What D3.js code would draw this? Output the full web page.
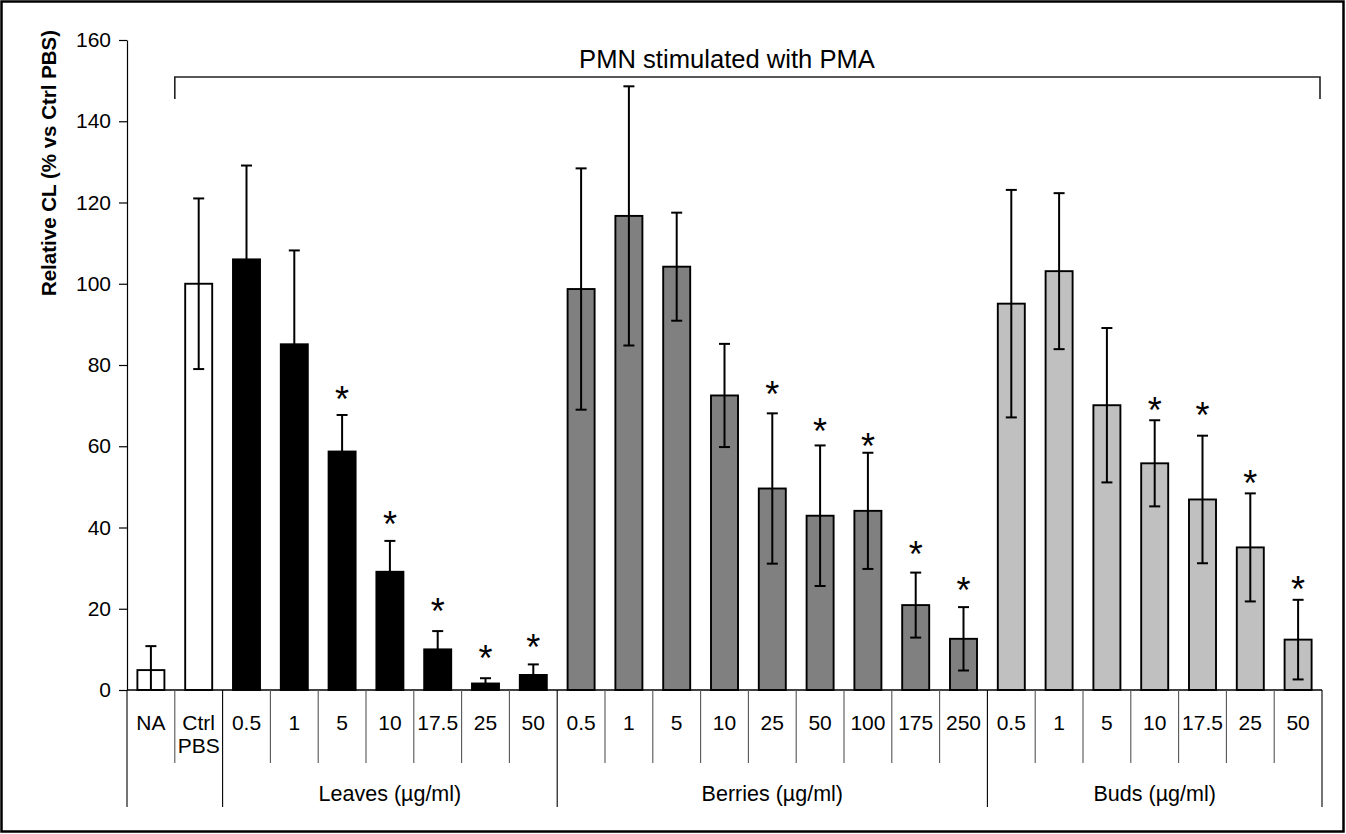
<!DOCTYPE html>
<html>
<head>
<meta charset="utf-8">
<script src="https://cdn.jsdelivr.net/npm/d3@7"></script>
<style>
body{margin:0;background:#fff;}
text{font-family:"Liberation Sans",Arial,sans-serif;fill:#000;}
</style>
</head>
<body>
<svg id="chart" width="1346" height="834"></svg>
<script>
// categories along the x axis (two-line labels split by \n)
var catLabels = ["NA","Ctrl\nPBS","0.5","1","5","10","17.5","25","50",
	"0.5","1","5","10","25","50","100","175","250",
	"0.5","1","5","10","17.5","25","50"];
var catGroup = ["none","ctrl","leaves","leaves","leaves","leaves","leaves","leaves","leaves",
	"berries","berries","berries","berries","berries","berries","berries","berries","berries",
	"buds","buds","buds","buds","buds","buds","buds"];
// mean relative CL (% vs Ctrl PBS)
var means = [4.9,100,106,85.1,58.7,29.1,10,1.6,3.7,
	98.7,116.7,104.2,72.5,49.6,42.9,44.1,20.9,12.6,
	95.1,103.1,70.1,55.8,46.9,35.1,12.4];
// error (+/-)
var errors = [5.9,21,23.1,23.1,9,7.6,4.5,1.3,2.6,
	29.7,31.9,13.3,12.7,18.5,17.3,14.3,8,7.8,
	28,19.2,19,10.6,15.7,13.3,9.8];
// level of the significance star, null = no star
var stars = [null,null,null,null,73.4,42.7,21.2,9.6,12.3,
	null,null,null,null,74.5,65.4,61.7,35.3,26.4,
	null,null,null,70.6,69.3,52.7,26.6];
var groupLabels = ["Leaves (µg/ml)","Berries (µg/ml)","Buds (µg/ml)"];
var groupKeys = ["leaves","berries","buds"];
var yTicks = [0,20,40,60,80,100,120,140,160];
var fills = {none:"#ffffff", ctrl:"#ffffff", leaves:"#000000", berries:"#808080", buds:"#c0c0c0"};

var svg = d3.select("#chart");
var W = 1346, H = 834;

svg.append("rect").attr("x",1.5).attr("y",1.5).attr("width",W-4).attr("height",H-4)
	.attr("fill","#fff").attr("stroke","#000").attr("stroke-width",2.5);

var y = d3.scaleLinear().domain([0,160]).range([690,40]);
var x = d3.scaleBand().domain(d3.range(catLabels.length)).range([127,1322]);
var bw = x.bandwidth()*0.565;
var cx = function(i){ return x(i) + x.bandwidth()/2; };

// y axis
var yAxis = svg.append("g").attr("transform","translate(127,0)")
	.call(d3.axisLeft(y).tickValues(yTicks).tickSize(8).tickSizeOuter(0).tickPadding(8));
yAxis.select(".domain").attr("stroke","#000").attr("stroke-width",1.2);
yAxis.selectAll(".tick line").attr("stroke","#000").attr("stroke-width",1.2);
yAxis.selectAll(".tick text").attr("font-size",21).style("font-family","'Liberation Sans',Arial,sans-serif");

svg.append("text").attr("transform","translate(56,163) rotate(-90)")
	.attr("text-anchor","middle").attr("font-size",20.5).attr("font-weight","bold")
	.text("Relative CL (% vs Ctrl PBS)");

// bars
svg.append("g").selectAll("rect").data(means).join("rect")
	.attr("x",function(d,i){ return cx(i)-bw/2; })
	.attr("y",function(d){ return y(d); })
	.attr("width",bw)
	.attr("height",function(d){ return y(0)-y(d); })
	.attr("fill",function(d,i){ return fills[catGroup[i]]; })
	.attr("stroke","#000").attr("stroke-width",1.9);

// error bars
var eb = svg.append("g").attr("stroke","#000").attr("stroke-width",2);
means.forEach(function(m,i){
	var hi = y(m+errors[i]), lo = y(Math.max(0,m-errors[i])), c = cx(i);
	eb.append("line").attr("x1",c).attr("x2",c).attr("y1",hi).attr("y2",lo);
	eb.append("line").attr("x1",c-5.5).attr("x2",c+5.5).attr("y1",hi).attr("y2",hi);
	if(m-errors[i] > 0) eb.append("line").attr("x1",c-5.5).attr("x2",c+5.5).attr("y1",lo).attr("y2",lo);
});

// stars
svg.append("g").selectAll("text").data(stars.map(function(s,i){ return {s:s,i:i}; }).filter(function(d){ return d.s!==null; }))
	.join("text")
	.attr("x",function(d){ return cx(d.i); })
	.attr("y",function(d){ return y(d.s)+20; })
	.attr("text-anchor","middle").attr("font-size",36)
	.text("*");

// baseline
svg.append("line").attr("x1",127).attr("x2",1322).attr("y1",y(0)).attr("y2",y(0))
	.attr("stroke","#000").attr("stroke-width",1.4);

// category separators and labels
var n = catLabels.length;
var bounds = d3.range(n+1);
var longAt = [0,2,9,18,25];
svg.append("g").selectAll("line").data(bounds).join("line")
	.attr("x1",function(b){ return b<n ? x(b) : x(n-1)+x.bandwidth(); })
	.attr("x2",function(b){ return b<n ? x(b) : x(n-1)+x.bandwidth(); })
	.attr("y1",y(0))
	.attr("y2",function(b){ return longAt.indexOf(b)>=0 ? 807 : 763; })
	.attr("stroke",function(b){ return longAt.indexOf(b)>=0 ? "#000" : "#555"; })
	.attr("stroke-width",1.1);

var cl = svg.append("g").attr("font-size",21).attr("text-anchor","middle");
catLabels.forEach(function(l,i){
	var t = cl.append("text").attr("x",cx(i)).attr("y",730);
	l.split("\n").forEach(function(p,k){
		t.append("tspan").attr("x",cx(i)).attr("dy",k ? 23 : 0).text(p);
	});
});

groupKeys.forEach(function(g,k){
	var idx = d3.range(n).filter(function(i){ return catGroup[i]===g; });
	var mid = (x(idx[0]) + x(idx[idx.length-1]) + x.bandwidth())/2;
	svg.append("text").attr("x",mid).attr("y",801).attr("text-anchor","middle")
		.attr("font-size",21.5).text(groupLabels[k]);
});

// bracket over stimulated samples
var bx1 = x(1), bx2 = x(n-1)+x.bandwidth()-2;
svg.append("path").attr("d","M"+bx1+",99V77H"+bx2+"V99")
	.attr("fill","none").attr("stroke","#222").attr("stroke-width",1.6);
svg.append("text").attr("x",727).attr("y",68).attr("text-anchor","middle")
	.attr("font-size",25.6).text("PMN stimulated with PMA");
</script>
</body>
</html>
